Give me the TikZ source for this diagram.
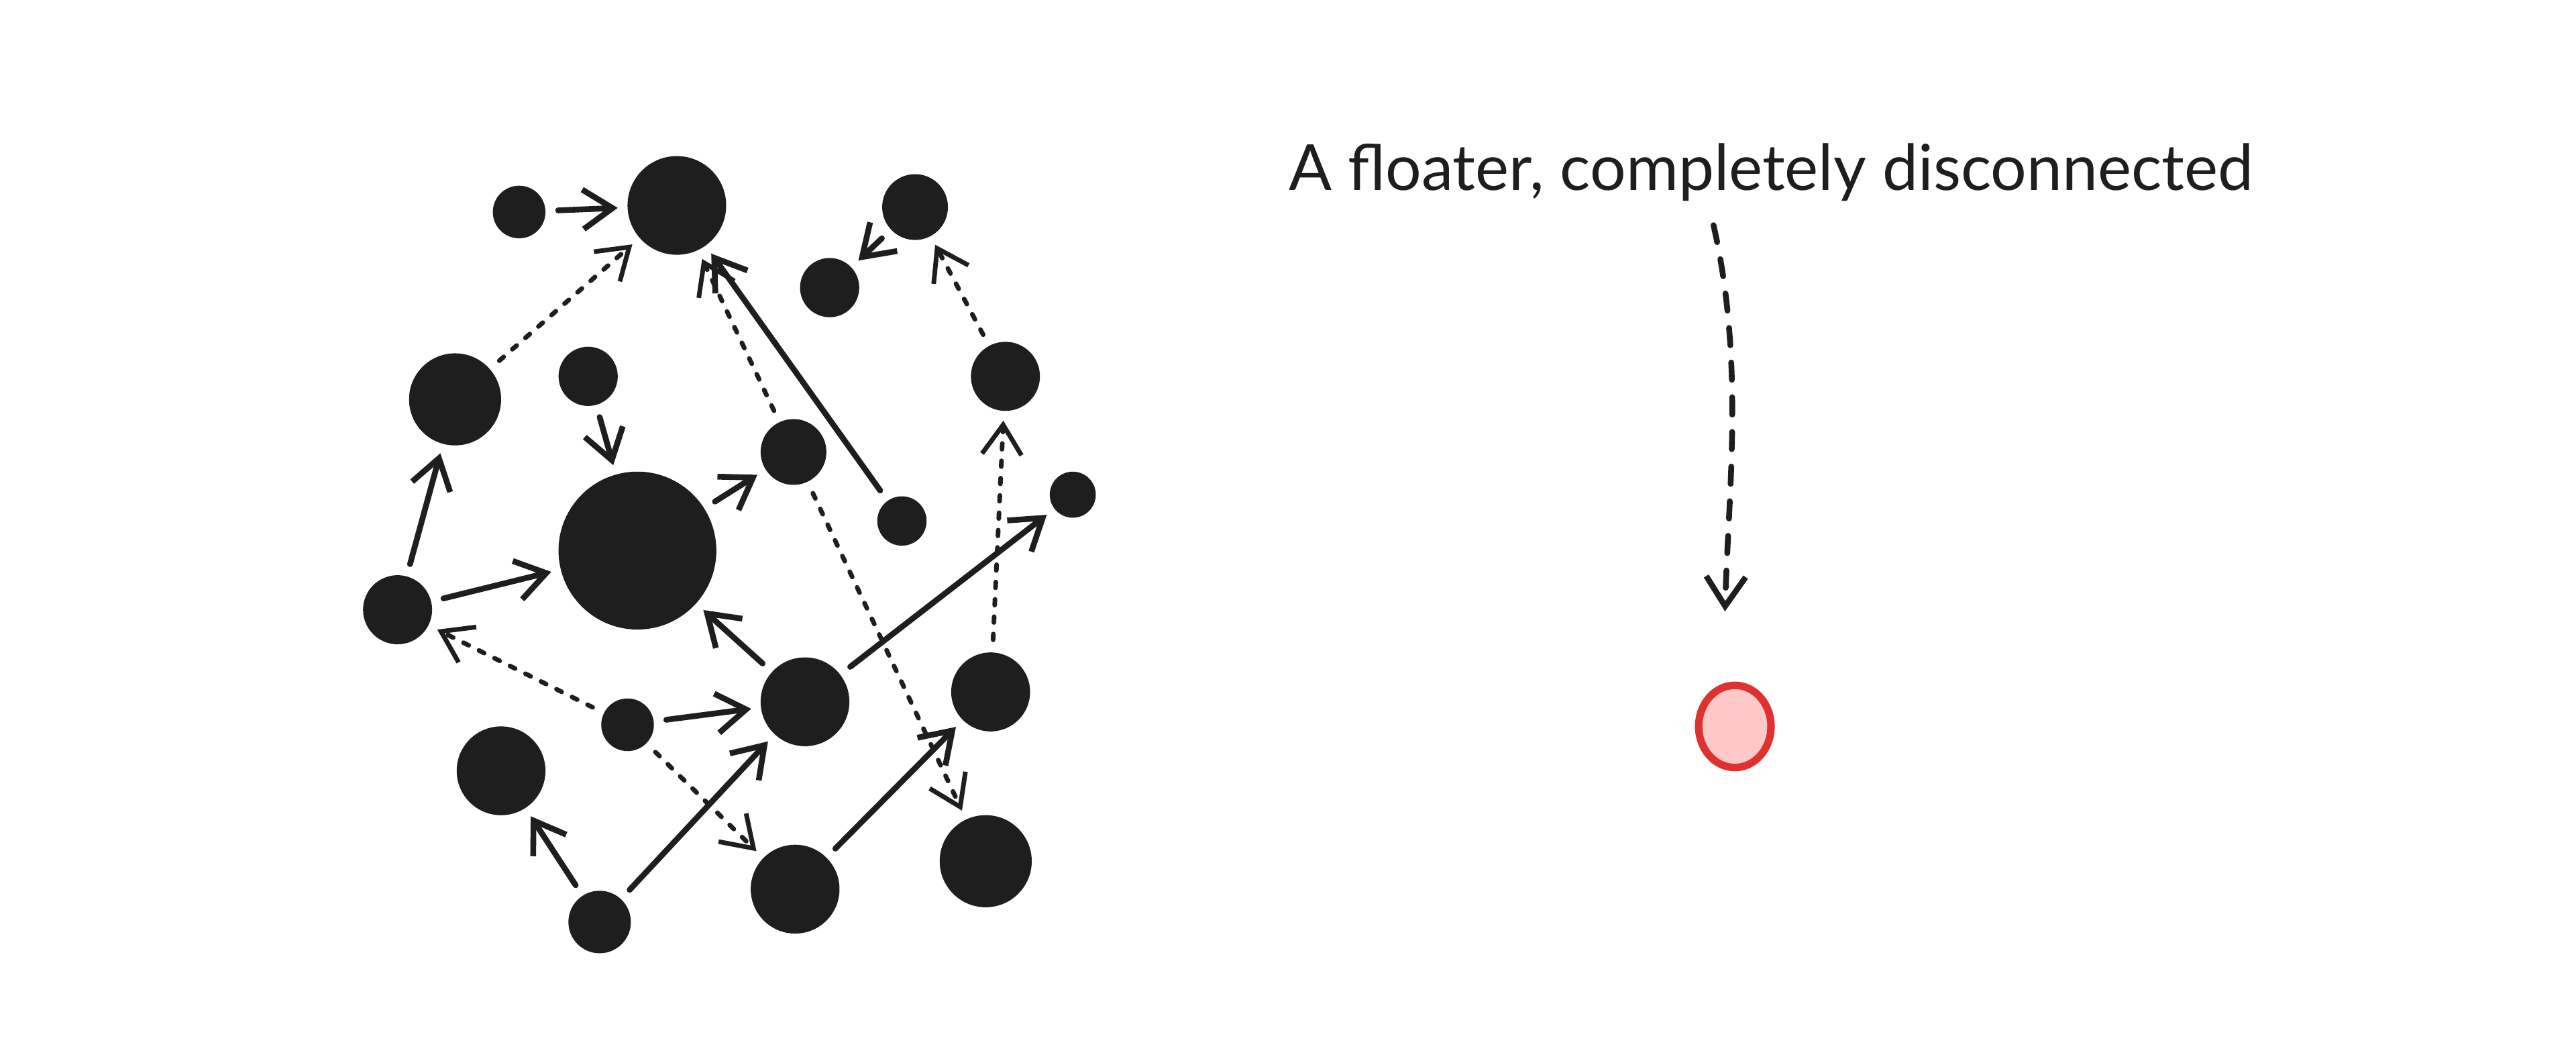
\documentclass[tikz,border=0pt]{standalone}
\usepackage{fontspec}
\setmainfont{Lato}
\usetikzlibrary{arrows.meta,shapes.geometric}
\definecolor{ink}{HTML}{1E1E1E}
\definecolor{redl}{HTML}{E03131}
\definecolor{redf}{HTML}{FFC9C9}
\begin{document}
\begin{tikzpicture}[x=0.01cm,y=-0.01cm,
 blob/.style={circle,fill=ink,inner sep=0pt,minimum size=#1*0.02cm},
 e/.style={draw=ink,line width=1pt,line cap=round,-{Straight Barb[length=0.18cm,width=0.24cm]},shorten >=1.5pt,shorten <=2pt},
 d/.style={e,dotted,line width=0.8pt}]
\useasboundingbox (0,0) rectangle (1568,643);
\node[blob=16] (n1) at (316,129) {};
\node[blob=30] (n2) at (412,125) {};
\node[blob=20] (n3) at (557,126) {};
\node[blob=18] (n4) at (505,175) {};
\node[blob=28] (n5) at (277,243) {};
\node[blob=18] (n6) at (358,229) {};
\node[blob=21] (n7) at (612,229) {};
\node[blob=20] (n8) at (483,275) {};
\node[blob=48] (n9) at (388,335) {};
\node[blob=15] (n10) at (549,317) {};
\node[blob=14] (n11) at (653,301) {};
\node[blob=21] (n12) at (242,371) {};
\node[blob=27] (n13) at (490,427) {};
\node[blob=24] (n14) at (603,421) {};
\node[blob=16] (n15) at (382,441) {};
\node[blob=27] (n16) at (305,469) {};
\node[blob=19] (n17) at (365,561) {};
\node[blob=27] (n18) at (484,541) {};
\node[blob=28] (n19) at (600,524) {};
\node[ellipse,draw=redl,fill=redf,line width=1.3pt,minimum width=0.44cm,minimum height=0.5cm,inner sep=0pt] (fl) at (1056,442) {};
\node[text=ink,font=\fontsize{11}{13}\selectfont] (t) at (1078,105) {A floater, completely disconnected};
\coordinate (c1) at (1043,137);
\coordinate (c2) at (1050,372);
\draw[e,dashed,shorten <=0pt,shorten >=0pt] (c1) .. controls (1062,220) and (1052,300) .. (c2);
\draw[e] (n1) -- (n2);
\draw[e] (n6) -- (n9);
\draw[e] (n9) -- (n8);
\draw[e] (n10) -- (n2);
\draw[e] (n3) -- (n4);
\draw[e] (n12) -- (n5);
\draw[e] (n12) -- (n9);
\draw[e] (n13) -- (n9);
\draw[e] (n13) -- (n11);
\draw[e] (n15) -- (n13);
\draw[e] (n17) -- (n16);
\draw[e] (n17) -- (n13);
\draw[e] (n18) -- (n14);
\draw[d] (n5) -- (n2);
\draw[d] (n8) -- (n2);
\draw[d] (n7) -- (n3);
\draw[d] (n14) -- (n7);
\draw[d] (n15) -- (n12);
\draw[d] (n15) -- (n18);
\draw[d] (n8) -- (n19);
\end{tikzpicture}
\end{document}
